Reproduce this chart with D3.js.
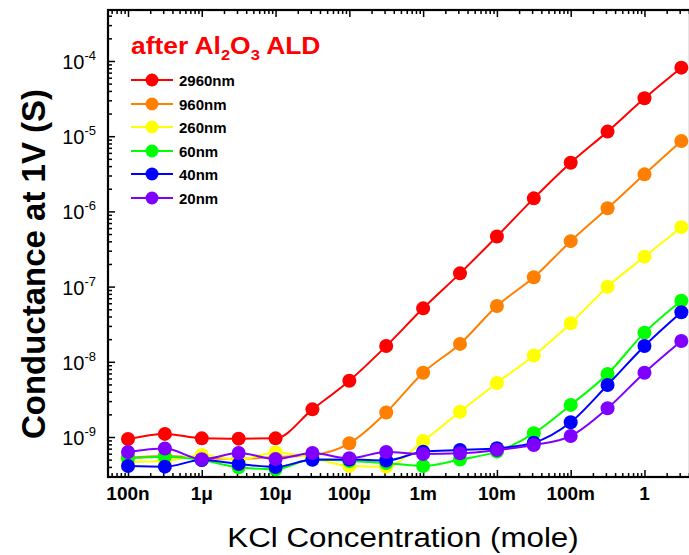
<!DOCTYPE html>
<html>
<head>
<meta charset="utf-8">
<script src="https://cdn.jsdelivr.net/npm/d3@7"></script>
<style>
  body { margin: 0; background: #fff; }
  text { font-family: Arial, "Liberation Sans", sans-serif; }
</style>
</head>
<body>
<div id="chart"></div>
<script>
// KCl concentration (mole), half-decade steps
var concentrations = [1e-7, 3.16e-7, 1e-6, 3.16e-6, 1e-5, 3.16e-5, 1e-4, 3.16e-4,
  1e-3, 3.16e-3, 1e-2, 3.16e-2, 0.1, 0.316, 1, 3.16];

var seriesNames = ["2960nm", "960nm", "260nm", "60nm", "40nm", "20nm"];
var seriesColors = ["#ff0000", "#ff8000", "#ffff00", "#00ff00", "#0000ff", "#8000ff"];

// conductance at 1V (S)
var g2960 = [9.4e-10, 1.1e-9, 9.6e-10, 9.5e-10, 9.6e-10, 2.33e-9, 5.6e-9, 1.62e-8,
  5.14e-8, 1.5e-7, 4.64e-7, 1.49e-6, 4.44e-6, 1.15e-5, 3.19e-5, 8.15e-5];
var g960 = [5.3e-10, 5.58e-10, 5.26e-10, 5.1e-10, 5.42e-10, 5.76e-10, 8.24e-10, 2.12e-9,
  7.16e-9, 1.73e-8, 5.52e-8, 1.33e-7, 4.02e-7, 1.1e-6, 3.11e-6, 8.63e-6];
var g260 = [4.65e-10, 4.8e-10, 5.76e-10, 4.95e-10, 6.22e-10, 5.26e-10, 4.11e-10, 4.03e-10,
  8.85e-10, 2.17e-9, 5.23e-9, 1.21e-8, 3.25e-8, 9.97e-8, 2.5e-7, 6.17e-7];
var g60 = [5.21e-10, 5.47e-10, 4.94e-10, 3.95e-10, 3.72e-10, 5.05e-10, 4.8e-10, 4.51e-10,
  4.11e-10, 5.02e-10, 6.38e-10, 1.12e-9, 2.67e-9, 6.88e-9, 2.44e-8, 6.49e-8];
var g40 = [4.11e-10, 4.03e-10, 4.94e-10, 4.38e-10, 3.99e-10, 4.99e-10, 5.02e-10, 4.87e-10,
  6.38e-10, 6.71e-10, 7.08e-10, 8.4e-10, 1.57e-9, 4.91e-9, 1.62e-8, 4.55e-8];
var g20 = [6.32e-10, 7.03e-10, 5.05e-10, 6.12e-10, 5.1e-10, 6.12e-10, 5.21e-10, 6.32e-10,
  5.94e-10, 6.07e-10, 6.71e-10, 7.83e-10, 1.03e-9, 2.41e-9, 7.16e-9, 1.89e-8];

var allSeries = [g2960, g960, g260, g60, g40, g20];

var xTickValues = [1e-7, 1e-6, 1e-5, 1e-4, 1e-3, 1e-2, 1e-1, 1];
var xTickLabels = ["100n", "1\u03bc", "10\u03bc", "100\u03bc", "1m", "10m", "100m", "1"];
var yTickValues = [1e-9, 1e-8, 1e-7, 1e-6, 1e-5, 1e-4];
var yTickExponents = ["-9", "-8", "-7", "-6", "-5", "-4"];

var svgWidth = 689;
var svgHeight = 555;

var margin = { top: 10, right: -1, bottom: 78, left: 108 };
var width = svgWidth - margin.left - margin.right;
var height = svgHeight - margin.top - margin.bottom;

var svg = d3.select("#chart")
  .append("svg")
  .attr("width", svgWidth)
  .attr("height", svgHeight);

var chartGroup = svg.append("g")
  .attr("transform", `translate(${margin.left}, ${margin.top})`);

var xScale = d3.scaleLog()
  .domain([Math.pow(10, -7.271), Math.pow(10, 0.617)])
  .range([0, width]);

var yScale = d3.scaleLog()
  .domain([Math.pow(10, -9.532), Math.pow(10, -3.322)])
  .range([height, 0]);

// minor tick positions (2..9 in every decade)
function minorTicks(scale) {
  var d = scale.domain();
  var out = [];
  for (var e = Math.floor(Math.log10(d[0])); e <= Math.ceil(Math.log10(d[1])); e++) {
    for (var m = 2; m <= 9; m++) {
      var v = m * Math.pow(10, e);
      if (v >= d[0] && v <= d[1]) out.push(v);
    }
  }
  return out;
}

var xMinor = minorTicks(xScale);
var yMinor = minorTicks(yScale);

// ticks point inward on every side
function tickSet(g, axisFn, values, size) {
  g.call(axisFn.tickValues(values).tickSize(size).tickFormat(""))
    .call(g => g.select(".domain").remove())
    .call(g => g.selectAll("line").attr("stroke", "#000").attr("stroke-width", 1.5));
}

var bottomG = chartGroup.append("g").attr("transform", `translate(0, ${height})`);
tickSet(bottomG.append("g"), d3.axisTop(xScale), xMinor, 4);
tickSet(bottomG.append("g"), d3.axisTop(xScale), xTickValues, 7);

var topG = chartGroup.append("g");
tickSet(topG.append("g"), d3.axisBottom(xScale), xMinor, 4);
tickSet(topG.append("g"), d3.axisBottom(xScale), xTickValues, 7);

var leftG = chartGroup.append("g");
tickSet(leftG.append("g"), d3.axisRight(yScale), yMinor, 4);
tickSet(leftG.append("g"), d3.axisRight(yScale), yTickValues, 7);

// frame
chartGroup.append("rect")
  .attr("x", 0)
  .attr("y", 0)
  .attr("width", width)
  .attr("height", height)
  .attr("fill", "none")
  .attr("stroke", "#000")
  .attr("stroke-width", 2.2);

// tick labels
chartGroup.selectAll(".xlab")
  .data(xTickValues)
  .enter()
  .append("text")
  .attr("class", "xlab")
  .attr("x", d => xScale(d))
  .attr("y", height + 23)
  .attr("text-anchor", "middle")
  .attr("font-size", 19)
  .attr("font-weight", "bold")
  .text((d, i) => xTickLabels[i]);

var ylab = chartGroup.selectAll(".ylab")
  .data(yTickValues)
  .enter()
  .append("text")
  .attr("class", "ylab")
  .attr("x", -12)
  .attr("y", d => yScale(d) + 8)
  .attr("text-anchor", "end")
  .attr("font-size", 20);
ylab.append("tspan").text("10");
ylab.append("tspan")
  .attr("dy", -9)
  .attr("font-size", 13)
  .text((d, i) => yTickExponents[i]);

// data lines and markers
var line = d3.line()
  .x((d, i) => xScale(concentrations[i]))
  .y(d => yScale(d))
  .curve(d3.curveMonotoneX);

var plotArea = chartGroup.append("g");

allSeries.forEach(function(values, k) {
  var sg = plotArea.append("g");
  sg.append("path")
    .datum(values)
    .attr("d", line)
    .attr("fill", "none")
    .attr("stroke", seriesColors[k])
    .attr("stroke-width", 2);
  sg.selectAll("circle")
    .data(values)
    .enter()
    .append("circle")
    .attr("cx", (d, i) => xScale(concentrations[i]))
    .attr("cy", d => yScale(d))
    .attr("r", 7)
    .attr("fill", seriesColors[k]);
});

// legend
var title = svg.append("text")
  .attr("transform", "translate(131, 54) scale(1.1, 1)")
  .attr("fill", "#ff0000")
  .attr("font-size", 24)
  .attr("font-weight", "bold");
title.append("tspan").text("after Al");
title.append("tspan").attr("font-size", 15).attr("dy", 6).text("2");
title.append("tspan").attr("dy", -6).text("O");
title.append("tspan").attr("font-size", 15).attr("dy", 6).text("3");
title.append("tspan").attr("dy", -6).text(" ALD");

var legend = svg.append("g");
var legendRows = [80, 104, 127, 151, 174, 198];

seriesNames.forEach(function(name, k) {
  var row = legend.append("g").attr("transform", `translate(0, ${legendRows[k]})`);
  row.append("line")
    .attr("x1", 131).attr("x2", 173)
    .attr("stroke", seriesColors[k])
    .attr("stroke-width", 2);
  row.append("circle")
    .attr("cx", 152)
    .attr("r", 6.5)
    .attr("fill", seriesColors[k]);
  row.append("text")
    .attr("x", 179)
    .attr("y", 5.5)
    .attr("font-size", 15)
    .attr("font-weight", "bold")
    .text(name);
});

// axis titles
svg.append("text")
  .attr("transform", "translate(45, 264) rotate(-90)")
  .attr("text-anchor", "middle")
  .attr("font-size", 33)
  .attr("font-weight", "bold")
  .text("Conductance at 1V (S)");

svg.append("text")
  .attr("transform", "translate(403, 547) scale(1.16, 1)")
  .attr("text-anchor", "middle")
  .attr("font-size", 27)
  .text("KCl Concentration (mole)");
</script>
</body>
</html>
